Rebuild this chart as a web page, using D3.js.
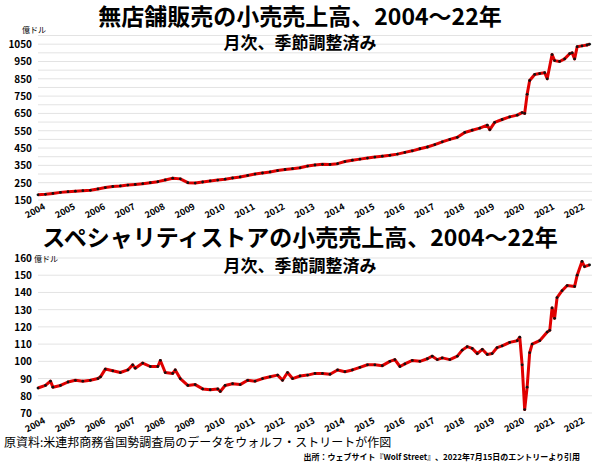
<!DOCTYPE html>
<html><head><meta charset="utf-8">
<script src="https://cdn.jsdelivr.net/npm/d3@7"></script>
<style>body{margin:0;background:#fff}</style></head>
<body><svg id="c" width="600" height="464"></svg>
<script>
const years = d3.range(2004, 2023).map(String);
// Non-store retail (億ドル)
const nsDates = ["2004-01","2004-04","2004-07","2004-10","2005-01","2005-04","2005-07","2005-10","2006-01","2006-04","2006-07","2006-10","2007-01","2007-04","2007-07","2007-10","2008-01","2008-04","2008-07","2008-10","2009-01","2009-04","2009-07","2009-10","2010-01","2010-04","2010-07","2010-10","2011-01","2011-04","2011-07","2011-10","2012-01","2012-04","2012-07","2012-10","2013-01","2013-04","2013-07","2013-10","2014-01","2014-04","2014-07","2014-10","2015-01","2015-04","2015-07","2015-10","2016-01","2016-04","2016-07","2016-10","2017-01","2017-04","2017-07","2017-10","2018-01","2018-04","2018-07","2018-10","2019-01","2019-02","2019-04","2019-07","2019-10","2020-01","2020-03","2020-04","2020-05","2020-06","2020-08","2020-10","2020-12","2021-01","2021-03","2021-04","2021-06","2021-08","2021-10","2021-11","2021-12","2022-01","2022-03","2022-05","2022-06"];
const nsValues = [180,183,188,194,198,201,204,206,214,222,228,231,236,240,244,250,256,266,276,272,250,248,254,260,265,270,277,283,292,300,306,312,320,326,331,336,346,352,356,355,360,372,380,386,392,398,403,408,415,425,434,446,456,470,486,500,512,540,553,565,582,556,598,615,630,640,655,650,760,840,875,880,885,850,990,955,950,965,995,1000,965,1035,1040,1045,1050];
// Specialty stores (億ドル)
const spDates = ["2004-01","2004-04","2004-06","2004-07","2004-10","2005-01","2005-04","2005-07","2005-10","2006-01","2006-02","2006-04","2006-07","2006-10","2007-01","2007-03","2007-04","2007-07","2007-10","2008-01","2008-02","2008-04","2008-07","2008-08","2008-10","2009-01","2009-04","2009-07","2009-10","2010-01","2010-02","2010-04","2010-07","2010-10","2011-01","2011-04","2011-07","2011-10","2012-01","2012-03","2012-05","2012-07","2012-10","2013-01","2013-04","2013-07","2013-10","2014-01","2014-04","2014-07","2014-10","2015-01","2015-04","2015-07","2015-10","2015-12","2016-02","2016-04","2016-07","2016-10","2017-01","2017-03","2017-05","2017-07","2017-10","2018-01","2018-03","2018-05","2018-07","2018-09","2018-11","2019-01","2019-03","2019-05","2019-07","2019-10","2020-01","2020-02","2020-03","2020-04","2020-05","2020-06","2020-07","2020-10","2021-01","2021-02","2021-03","2021-04","2021-05","2021-07","2021-09","2021-12","2022-01","2022-03","2022-04","2022-06"];
const spValues = [84.5,86,88.5,85,86,88,89,88.5,89,90,91,95.5,94.5,93.5,95,98,96,99,97,97,100.5,93.5,93,95,90,86,86.5,84,83.5,84,82.5,86,87,86.5,89,88.5,90,91,92,89,93.5,90,91.5,92,93,93,92.5,95,94,95,96.5,98,98,97.5,100,101,97,98.5,100.5,100,101.5,103,101,102,101,103,106.5,108.5,107.5,104.5,107,104,104.5,108,109,111,112,114,98,72,85,105,110,112,117,118,131,125,137,141,144,143.5,150,158,155,156];

const svg = d3.select("#c");
const parse = d3.timeParse("%Y-%m");
const x = d3.scaleTime().domain([new Date(2004,0,1), new Date(2022,6,1)]).range([38, 592]);
const F = "'Noto Sans CJK JP','Noto Sans',sans-serif";

function panel(dates, values, yDomain, yRange, tickVals, gridStep, axisY, unitPos) {
  const y = d3.scaleLinear().domain(yDomain).range(yRange);
  const g = svg.append("g");
  const grid = d3.range(yDomain[0], yDomain[1] + 0.001, gridStep);
  g.selectAll("line.g").data(grid).join("line")
    .attr("x1", 38).attr("x2", 592).attr("y1", d => y(d)).attr("y2", d => y(d))
    .attr("stroke", "#e3e3e3").attr("stroke-width", 1);
  g.selectAll("text.yt").data(tickVals).join("text")
    .attr("x", 32).attr("y", d => y(d) + 4).attr("text-anchor", "end")
    .attr("font-family", F).attr("font-size", 10).attr("font-weight", "bold").text(d => d);
  g.append("text").attr("x", unitPos[0]).attr("y", unitPos[1]).attr("font-family", F)
    .attr("font-size", 8).text("億ドル");
  const xa = d3.axisBottom(x).tickValues(years.map(s => new Date(+s, 0, 1))).tickSize(0).tickFormat(d3.timeFormat("%Y"));
  const ax = g.append("g").attr("transform", `translate(0,${axisY})`).call(xa);
  ax.select(".domain").remove();
  ax.selectAll("text").attr("font-family", F).attr("font-size", 9).attr("font-weight", "bold")
    .attr("text-anchor", "end").attr("transform", "rotate(-28)").attr("dy", "0.3em").attr("dx", "0.6em");
  const data = dates.map((d, i) => [parse(d), values[i]]);
  const line = d3.line().x(d => x(d[0])).y(d => y(d[1]));
  g.append("path").datum(data).attr("d", line).attr("fill", "none").attr("stroke", "#e00000").attr("stroke-width", 3).attr("stroke-linejoin", "round");
  g.selectAll("circle").data(data).join("circle").attr("cx", d => x(d[0])).attr("cy", d => y(d[1])).attr("r", 1.4).attr("fill", "#111");
}

panel(nsDates, nsValues, [150, 1100], [200, 35.5], d3.range(150, 1051, 100), 50, 206, [22, 33]);
panel(spDates, spValues, [70, 160], [413, 258], d3.range(70, 161, 10), 10, 420, [34, 262]);

function t(xp, yp, s, size, w, anchor) {
  svg.append("text").attr("x", xp).attr("y", yp).attr("font-family", F).attr("font-size", size)
    .attr("font-weight", w).attr("text-anchor", anchor || "middle").text(s);
}
t(300, 25, "無店舗販売の小売売上高、2004～22年", 23, "bold");
t(300, 49, "月次、季節調整済み", 17, "bold");
t(300, 246, "スペシャリティストアの小売売上高、2004～22年", 23, "bold");
t(300, 272, "月次、季節調整済み", 17, "bold");
t(4, 447, "原資料:米連邦商務省国勢調査局のデータをウォルフ・ストリートが作図", 12, "normal", "start");
t(580, 460, "出所：ウェブサイト『Wolf Street』、2022年7月15日のエントリーより引用", 8, "bold", "end");
</script></body></html>
